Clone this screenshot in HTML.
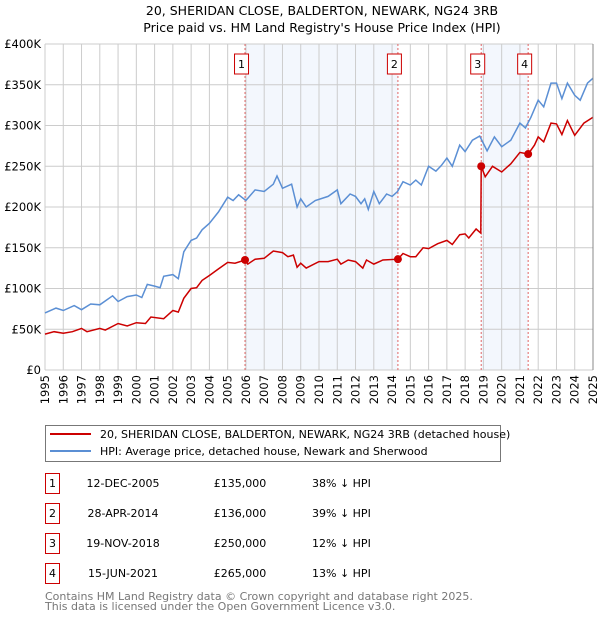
<!DOCTYPE html>
<html><head><meta charset="utf-8"><style>
body{margin:0;background:#fff;font-family:"DejaVu Sans","Liberation Sans",sans-serif;}
svg text{font-family:"DejaVu Sans","Liberation Sans",sans-serif;}
</style></head><body>
<svg id="c" width="600" height="620" viewBox="0 0 600 620">
<text x="322" y="15" text-anchor="middle" font-size="12.5">20, SHERIDAN CLOSE, BALDERTON, NEWARK, NG24 3RB</text>
<text x="322" y="32" text-anchor="middle" font-size="12.5">Price paid vs. HM Land Registry's House Price Index (HPI)</text>
<g id="plot"></g>
<rect x="45.5" y="425.5" width="455" height="36" fill="#fff" stroke="#777"/>
<line x1="50" y1="434" x2="91" y2="434" stroke="#cc0000" stroke-width="2"/>
<text x="100" y="438" font-size="11">20, SHERIDAN CLOSE, BALDERTON, NEWARK, NG24 3RB (detached house)</text>
<line x1="50" y1="451" x2="91" y2="451" stroke="#5b8fd4" stroke-width="2"/>
<text x="100" y="455" font-size="11">HPI: Average price, detached house, Newark and Sherwood</text>
<g id="tbl"></g>
<text x="45" y="600" font-size="11" fill="#777">Contains HM Land Registry data © Crown copyright and database right 2025.</text>
<text x="45" y="610" font-size="11" fill="#777">This data is licensed under the Open Government Licence v3.0.</text>
</svg>
<script>
const hpiYears=[1995,1995.6,1996,1996.6,1997,1997.5,1998,1998.7,1999,1999.5,2000,2000.3,2000.6,2001,2001.3,2001.5,2002,2002.3,2002.6,2003,2003.3,2003.6,2004,2004.5,2005,2005.3,2005.6,2006,2006.5,2007,2007.5,2007.7,2008,2008.5,2008.8,2009,2009.3,2009.8,2010.5,2011,2011.2,2011.7,2012,2012.3,2012.5,2012.7,2013,2013.3,2013.7,2014,2014.3,2014.6,2015,2015.3,2015.6,2016,2016.4,2016.7,2017,2017.3,2017.7,2018,2018.4,2018.8,2019.2,2019.6,2020,2020.5,2021,2021.3,2021.6,2022,2022.3,2022.7,2023,2023.3,2023.6,2024,2024.3,2024.7,2025];
const hpiValues=[70,76,73,79,74,81,80,91,84,90,92,89,105,103,101,115,117,112,145,159,162,172,180,194,212,208,215,208,221,219,228,238,223,228,200,210,200,208,213,221,204,216,213,204,210,197,219,204,216,213,219,231,227,233,227,250,244,251,260,250,276,268,282,287,269,286,274,282,303,297,310,331,323,352,352,333,352,337,331,352,358];
const ppYears=[1995,1995.5,1996,1996.5,1997,1997.3,1998,1998.3,1999,1999.5,2000,2000.5,2000.8,2001.5,2002,2002.3,2002.6,2003,2003.3,2003.6,2004,2004.5,2005,2005.4,2005.95,2006.1,2006.5,2007,2007.5,2008,2008.3,2008.6,2008.8,2009,2009.3,2010,2010.5,2011,2011.2,2011.6,2012,2012.4,2012.6,2013,2013.5,2014.32,2014.6,2015,2015.3,2015.7,2016,2016.5,2017,2017.3,2017.7,2018,2018.2,2018.6,2018.86,2018.88,2019.1,2019.5,2020,2020.5,2021,2021.45,2021.8,2022,2022.3,2022.7,2023,2023.3,2023.6,2024,2024.5,2025];
const ppValues=[44,47,45,47,51,47,51,49,57,54,58,57,65,63,73,71,88,100,101,110,116,124,132,131,135,130,136,137,146,144,139,141,126,131,125,133,133,136,130,135,133,125,135,130,135,136,143,139,139,150,149,155,159,154,166,167,162,173,168,250,237,250,243,253,267,265,276,286,280,303,302,289,306,288,303,310];
const saleYears=[2005.95,2014.32,2018.88,2021.45];
const saleValues=[135,136,250,265];
const saleLabels=["1","2","3","4"];
const saleDates=["12-DEC-2005","28-APR-2014","19-NOV-2018","15-JUN-2021"];
const salePrices=["£135,000","£136,000","£250,000","£265,000"];
const saleDiffs=["38% ↓ HPI","39% ↓ HPI","12% ↓ HPI","13% ↓ HPI"];
const yTicks=[0,50,100,150,200,250,300,350,400];
const yTickLabels=["£0","£50K","£100K","£150K","£200K","£250K","£300K","£350K","£400K"];
const xTicks=[];for(let y=1995;y<=2025;y++)xTicks.push(y);

const NS="http://www.w3.org/2000/svg";
const L=45,R=593,T=44,B=370;
const xs=y=>L+(y-1995)/30*(R-L);
const ys=v=>B-v/400*(B-T);
const plot=document.getElementById('plot');
function mk(tag,attrs,parent){const e=document.createElementNS(NS,tag);for(const k in attrs)e.setAttribute(k,attrs[k]);(parent||plot).appendChild(e);return e;}

let e=mk('rect',{x:L,y:T,width:R-L,height:B-T,fill:'#fff'});


for(let i=0;i<2;i++){
  const a=saleYears[i*2],b=saleYears[i*2+1];
  e=mk('rect',{x:xs(a),y:T,width:xs(b)-xs(a),height:B-T,fill:'#eef3fc',opacity:0.7});
  
  
}
xTicks.forEach(y=>{
  e=mk('line',{x1:xs(y),y1:T,x2:xs(y),y2:B,stroke:'#ccc','stroke-width':1});
  
  
  e=mk('text',{x:0,y:0,'font-size':11.5,'text-anchor':'end',transform:`translate(${xs(y)+4},${B+5}) rotate(-90)`});
  e.textContent=y;
  
  
});
yTicks.forEach((v,i)=>{
  e=mk('line',{x1:L,y1:ys(v),x2:R,y2:ys(v),stroke:'#ccc','stroke-width':1});
  
  
  e=mk('text',{x:L-4,y:ys(v)+4,'font-size':11.5,'text-anchor':'end'});
  e.textContent=yTickLabels[i];
  
  
});
saleYears.forEach((y,i)=>{
  e=mk('line',{x1:xs(y),y1:T,x2:xs(y),y2:B,stroke:'#e06666','stroke-width':1,'stroke-dasharray':'2,2'});
  
  
  e=mk('rect',{x:xs(y)-10.5,y:54,width:14,height:20,fill:'#fff',stroke:'#cc0000'});
  
  
  e=mk('text',{x:xs(y)-3.5,y:68,'font-size':11,'text-anchor':'middle'});
  e.textContent=saleLabels[i];
  
  
});
const pts=(xa,va)=>xa.map((y,i)=>xs(y).toFixed(1)+','+ys(va[i]).toFixed(1)).join(' ');
e=mk('polyline',{points:pts(hpiYears,hpiValues),fill:'none',stroke:'#5b8fd4','stroke-width':1.5});


e=mk('polyline',{points:pts(ppYears,ppValues),fill:'none',stroke:'#cc0000','stroke-width':1.5});


saleYears.forEach((y,i)=>{
  e=mk('circle',{cx:xs(y),cy:ys(saleValues[i]),r:4,fill:'#cc0000'});
  
  
});
e=mk('line',{x1:R,y1:T,x2:R,y2:B,stroke:'#888'});



const tbl=document.getElementById('tbl');
saleLabels.forEach((s,i)=>{
  const cy=483+i*30;
  e=mk('rect',{x:45.5,y:cy-9.5,width:14,height:20,fill:'#fff',stroke:'#cc0000'},tbl);
  
  
  e=mk('text',{x:52.5,y:cy+4,'font-size':11,'text-anchor':'middle'},tbl);
  e.textContent=s;
  
  
  e=mk('text',{x:123,y:cy+4,'font-size':11,'text-anchor':'middle'},tbl);
  e.textContent=saleDates[i];
  
  
  e=mk('text',{x:240,y:cy+4,'font-size':11,'text-anchor':'middle'},tbl);
  e.textContent=salePrices[i];
  
  
  e=mk('text',{x:312,y:cy+4,'font-size':11},tbl);
  e.textContent=saleDiffs[i];
  
  
});
</script>
</body></html>
